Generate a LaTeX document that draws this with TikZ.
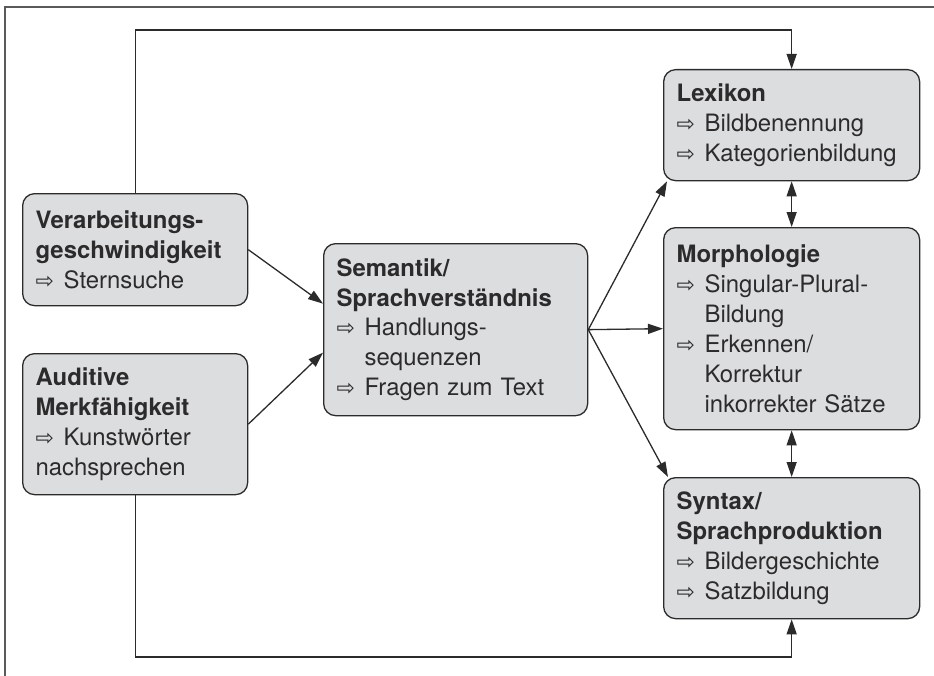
\documentclass[tikz,border=0pt]{standalone}
\usepackage{fontspec}
\setmainfont{TeX Gyre Heros}
\newfontfamily\symfont{DejaVu Sans}
\usepackage{tikz}
\usetikzlibrary{arrows.meta,calc}
\definecolor{boxgray}{HTML}{DCDDDF}
\definecolor{linecol}{HTML}{2B2B2B}
\definecolor{framecol}{HTML}{5A5A5A}
\newcommand{\pfeil}{\makebox[28bp][l]{\symfont\fontsize{22}{30}\selectfont ⇨}}
\newcommand{\ein}{\hspace*{28bp}}
\newcommand{\kopf}[1]{\textbf{#1}}
\tikzset{
  box/.style={draw=linecol, fill=boxgray, rounded corners=12bp, line width=1.3bp,
    anchor=north west, align=left, inner xsep=13bp, inner ysep=0pt, text=linecol,
    font=\fontsize{24}{30}\selectfont},
  conn/.style={draw=linecol, line width=1.3bp},
  tip/.tip={Triangle[length=15bp,width=10bp]}}
\begin{document}
\begin{tikzpicture}[x=1bp,y=-1bp]
\useasboundingbox (0,0) rectangle (934,676);
% Rahmen
\draw[framecol, line width=1.5bp] (5,676) -- (5,7) -- (934,7);
% Kaesten links
\node[box, text width=199bp, minimum height=112bp] (verarb) at (22,193)
  {\kopf{Verarbeitungs-}\\\kopf{geschwindigkeit}\\\pfeil Sternsuche};
\node[box, text width=199bp, minimum height=141bp] (audit) at (22,353)
  {\kopf{Auditive}\\\kopf{Merkfähigkeit}\\\pfeil Kunstwörter\\nachsprechen};
% Kasten Mitte
\node[box, text width=238bp, minimum height=172bp] (sem) at (323,243)
  {\kopf{Semantik/}\\\kopf{Sprachverständnis}\\\pfeil Handlungs-\\\ein sequenzen\\\pfeil Fragen zum Text};
% Kaesten rechts
\node[box, text width=230bp, minimum height=111bp] (lex) at (663,69)
  {\kopf{Lexikon}\\\pfeil Bildbenennung\\\pfeil Kategorienbildung};
\node[box, text width=230bp, minimum height=202bp] (morph) at (663,227)
  {\kopf{Morphologie}\\\pfeil Singular-Plural-\\\ein Bildung\\\pfeil Erkennen/\\\ein Korrektur\\\ein inkorrekter Sätze};
\node[box, text width=230bp, minimum height=141bp] (syn) at (663,477)
  {\kopf{Syntax/}\\\kopf{Sprachproduktion}\\\pfeil Bildergeschichte\\\pfeil Satzbildung};
% Verbindungen
\coordinate (hoch) at (0,30);
\coordinate (tief) at (0,657);
\draw[conn, -tip] (verarb.north) -- (verarb.north |- hoch) -| (lex.north);
\draw[conn, -tip] (audit.south) -- (audit.south |- tief) -| (syn.south);
\draw[conn, -tip] (verarb.east) -- ([yshift=26bp]sem.west);
\draw[conn, -tip] (audit.east) -- ([yshift=-23bp]sem.west);
\draw[conn, -tip] (sem.east) -- ([xshift=4bp]lex.south west);
\draw[conn, -tip] (sem.east) -- (morph.west);
\draw[conn, -tip] (sem.east) -- ([xshift=5bp]syn.north west);
\draw[conn, tip-tip] (lex.south) -- (morph.north);
\draw[conn, tip-tip] (morph.south) -- (syn.north);
\end{tikzpicture}
\end{document}
